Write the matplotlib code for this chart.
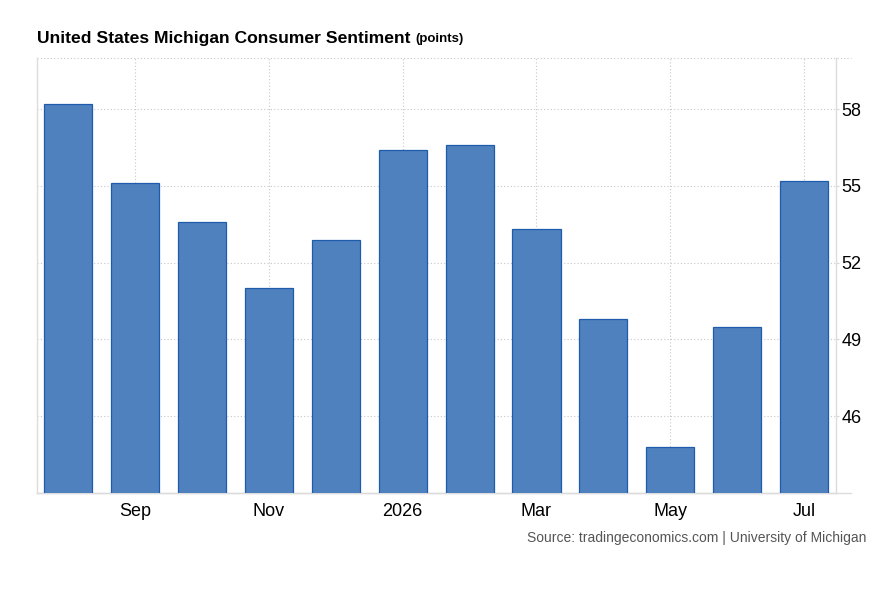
import matplotlib.pyplot as plt

plt.rcParams['font.family'] = ['Liberation Sans', 'DejaVu Sans']

months = ['Aug', 'Sep', 'Oct', 'Nov', 'Dec', 'Jan', 'Feb', 'Mar', 'Apr', 'May', 'Jun', 'Jul']
sentiment = [58.2, 55.1, 53.6, 51.0, 52.9, 56.4, 56.6, 53.3, 49.8, 44.8, 49.5, 55.2]
tick_months = ['Sep', 'Nov', 'Jan', 'Mar', 'May', 'Jul']
tick_labels = ['Sep', 'Nov', '2026', 'Mar', 'May', 'Jul']
y_ticks = [46, 49, 52, 55, 58]

fig = plt.figure(figsize=(8.82, 6.03), dpi=100)
ax = fig.add_axes([37 / 882, 110 / 603, 799 / 882, 435 / 603])

x = list(range(len(months)))
ax.bar(x, sentiment, width=0.72, color='#4e81bd', edgecolor='#1f5bad',
       linewidth=0.9, zorder=3)

xmin, xmax = -0.47, len(months) - 0.52
ymin, ymax = 43, 60
ax.set_xlim(xmin, xmax)
ax.set_ylim(ymin, ymax)

xt = [months.index(m) for m in tick_months]
ax.set_xticks(xt)
ax.set_xticklabels(tick_labels, fontsize=13)
ax.set_yticks(y_ticks)
ax.set_yticklabels([str(v) for v in y_ticks], fontsize=13)
ax.yaxis.tick_right()
ax.tick_params(axis='y', length=2, color='#d8d8d8', pad=2, width=0.8)
ax.tick_params(axis='x', length=0, pad=7)

ax.grid(True, color='#c8c8c8', linestyle=(0, (1, 2)), linewidth=0.8, zorder=0)

for side in ['left', 'bottom', 'right']:
    ax.spines[side].set_color('#dcdcdc')
    ax.spines[side].set_linewidth(1.0)
ax.spines['top'].set_visible(False)

# top dotted border and bottom axis line run a bit past the right spine
ext = xmax + 0.22
ax.plot([xmin, ext], [ymax, ymax], color='#c8c8c8', linestyle=(0, (1, 2)),
        linewidth=0.8, clip_on=False, zorder=1)
ax.plot([xmin, ext], [ymin, ymin], color='#dcdcdc', linewidth=1.0,
        clip_on=False, zorder=1)

title = fig.text(37 / 882, 1 - 38 / 603, 'United States Michigan Consumer Sentiment',
                 fontsize=12.6, fontweight='bold', va='center', ha='left')
fig.canvas.draw()
bb = title.get_window_extent()
fig.text((bb.x1 + 5) / 882, 1 - 39 / 603, '(points)', fontsize=9.5, fontweight='bold',
         va='center', ha='left')
fig.text(866 / 882, 1 - 538 / 603, 'Source: tradingeconomics.com | University of Michigan',
         fontsize=10, color='#555555', va='center', ha='right')

fig.savefig('out.png', dpi=100)
